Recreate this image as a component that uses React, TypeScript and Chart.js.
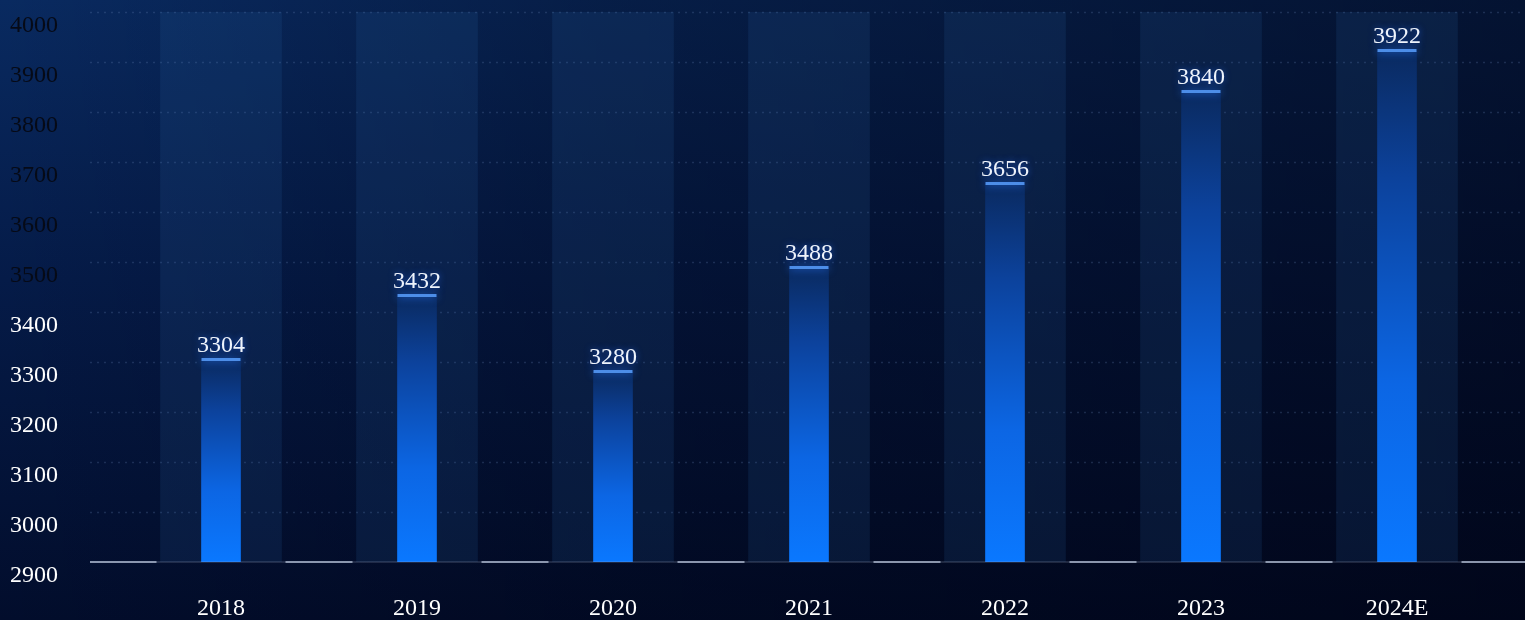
import React, { useEffect, useRef } from "react";
import { Chart, registerables } from "chart.js";

Chart.register(...registerables);

const categories = ["2018", "2019", "2020", "2021", "2022", "2023", "2024E"];
const values = [3304, 3432, 3280, 3488, 3656, 3840, 3922];
const columnValues = [4000, 4000, 4000, 4000, 4000, 4000, 4000];
const yMin = 2900;
const yMax = 4000;
const yStep = 100;
const darkTickFrom = 3500;

const FONT = '"Liberation Serif", "DejaVu Serif", serif';

const gridPlugin = {
  id: "fullGrid",
  beforeDatasetsDraw(chart: any) {
    const { ctx, scales, width } = chart;
    const y = scales.y;
    ctx.save();
    y.ticks.forEach((t: any) => {
      const py = Math.round(y.getPixelForValue(t.value)) + 0.5;
      if (t.value === yMin) return;
      ctx.setLineDash([2, 5]);
      ctx.strokeStyle = "rgba(110,140,190,0.24)";
      ctx.lineWidth = 1.5;
      ctx.beginPath();
      ctx.moveTo(90, py);
      ctx.lineTo(width, py);
      ctx.stroke();
    });
    ctx.restore();
  },
  afterDatasetsDraw(chart: any) {
    const { ctx, scales, width } = chart;
    const y = scales.y;
    const py = Math.round(y.getPixelForValue(yMin));
    ctx.save();
    ctx.strokeStyle = "rgba(170,185,210,0.18)";
    ctx.lineWidth = 2;
    ctx.beginPath();
    ctx.moveTo(90, py);
    ctx.lineTo(width, py);
    ctx.stroke();
    const cols = chart.getDatasetMeta(1).data;
    const edges: number[] = [90];
    cols.forEach((el: any) => {
      edges.push(el.x - el.width / 2 - 4);
      edges.push(el.x + el.width / 2 + 4);
    });
    edges.push(width);
    ctx.strokeStyle = "rgba(185,198,220,0.7)";
    for (let i = 0; i < edges.length; i += 2) {
      ctx.beginPath();
      ctx.moveTo(edges[i], py);
      ctx.lineTo(edges[i + 1], py);
      ctx.stroke();
    }
    const bars = chart.getDatasetMeta(0).data;
    bars.forEach((el: any, i: number) => {
      const w = el.width;
      ctx.save();
      ctx.shadowColor = "rgba(40,120,255,0.9)";
      ctx.shadowBlur = 8;
      ctx.fillStyle = "#4d8ee8";
      ctx.fillRect(el.x - w / 2, el.y - 2, w, 3);
      ctx.restore();
      ctx.save();
      ctx.font = `24px ${FONT}`;
      ctx.textAlign = "center";
      ctx.textBaseline = "middle";
      ctx.shadowColor = "rgba(30,90,220,0.8)";
      ctx.shadowBlur = 6;
      ctx.fillStyle = "#eef3fb";
      ctx.fillText(String(values[i]), el.x, el.y - 14);
      ctx.restore();
    });
    ctx.restore();
  },
};

export default function App() {
  const canvasRef = useRef<HTMLCanvasElement | null>(null);

  useEffect(() => {
    if (!canvasRef.current) return;
    const chart = new Chart(canvasRef.current, {
      type: "bar",
      data: {
        labels: categories,
        datasets: [
          {
            label: "value",
            data: values,
            order: 0,
            grouped: false,
            barThickness: 39,
            borderWidth: 0,
            backgroundColor: (c: any) => {
              const ch = c.chart;
              const area = ch.chartArea;
              if (!area || c.raw === undefined) return "#0a6ef0";
              const top = ch.scales.y.getPixelForValue(c.raw);
              const g = ch.ctx.createLinearGradient(0, area.bottom, 0, top);
              g.addColorStop(0, "rgb(10,120,255)");
              g.addColorStop(0.35, "rgb(12,102,228)");
              g.addColorStop(0.75, "rgb(12,66,156)");
              g.addColorStop(1, "rgb(10,42,96)");
              return g;
            },
          } as any,
          {
            label: "column",
            data: columnValues,
            order: 1,
            grouped: false,
            barThickness: 121,
            borderWidth: 0,
            backgroundColor: "rgba(45,105,175,0.15)",
          } as any,
        ],
      },
      options: {
        animation: false,
        responsive: true,
        maintainAspectRatio: false,
        layout: { padding: { left: 10, right: 30, top: 12, bottom: 0 } },
        plugins: {
          legend: { display: false },
          tooltip: { enabled: false },
        },
        scales: {
          x: {
            grid: { display: false, drawTicks: false },
            border: { display: false },
            ticks: {
              color: "#ffffff",
              font: { family: FONT, size: 24 },
              padding: 32,
            },
            afterFit: (s: any) => {
              s.height = 58;
            },
          },
          y: {
            min: yMin,
            max: yMax,
            grid: { display: false, drawTicks: false },
            border: { display: false },
            ticks: {
              stepSize: yStep,
              crossAlign: "far",
              labelOffset: 14,
              font: { family: FONT, size: 24 },
              callback: (v: any) => String(v),
              color: (c: any) =>
                c.tick && c.tick.value >= darkTickFrom ? "#060a16" : "#ffffff",
            },
            afterFit: (s: any) => {
              s.width = 113;
              s.paddingTop = 0;
              s.paddingBottom = 0;
            },
          },
        },
      } as any,
      plugins: [gridPlugin],
    });
    return () => chart.destroy();
  }, []);

  return (
    <div
      style={{
        position: "fixed",
        left: 0,
        top: 0,
        width: 1525,
        height: 620,
        background:
          "linear-gradient(to right, rgba(0,0,10,0) 0%, rgba(0,0,12,0.3) 40%, rgba(0,0,12,0.55) 100%), linear-gradient(to bottom, #092a60 0%, #051b48 45%, #020d2c 100%)",
      }}
    >
      <canvas ref={canvasRef} />
    </div>
  );
}
